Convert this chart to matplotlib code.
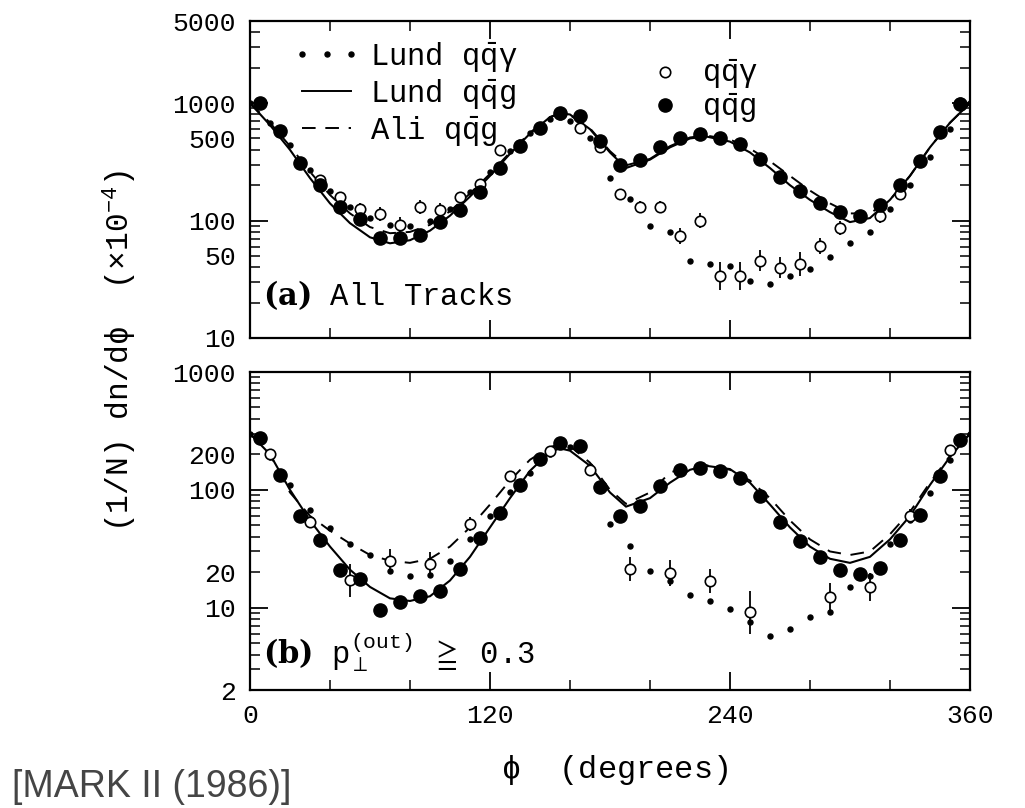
import matplotlib
matplotlib.use("Agg")
import matplotlib.pyplot as plt
from matplotlib.lines import Line2D
import numpy as np

plt.rcParams['font.family'] = ['Liberation Mono', 'DejaVu Sans']
plt.rcParams['mathtext.fontset'] = 'custom'
plt.rcParams['mathtext.rm'] = 'Liberation Mono'
plt.rcParams['mathtext.it'] = 'Liberation Mono'
plt.rcParams['mathtext.bf'] = 'DejaVu Serif:bold'
plt.rcParams['mathtext.fallback'] = 'stix'

# ---------------- data: panel (a) All Tracks ----------------
phi_bins = [5, 15, 25, 35, 45, 55, 65, 75, 85, 95, 105, 115, 125, 135, 145, 155, 165, 175,
            185, 195, 205, 215, 225, 235, 245, 255, 265, 275, 285, 295, 305, 315, 325, 335, 345, 355]
a_qqg = [1000, 579, 306, 199, 130, 103, 71, 71, 75, 97, 122, 175, 281, 434, 611, 821, 783, 475,
         300, 327, 425, 508, 542, 508, 445, 331, 235, 177, 142, 119, 109, 136, 199, 321, 564, 980]

a_gam_phi = [5, 35, 45, 55, 65, 75, 85, 95, 105, 115, 125, 135, 145, 155, 165, 175, 185, 195,
             205, 215, 225, 235, 245, 255, 265, 275, 285, 295, 315, 325, 355]
a_gam = [1000, 220, 158, 126, 114, 91, 130, 122, 158, 206, 398, 440, 618, 800, 616, 425, 169, 130,
         130, 74, 100, 33.8, 33.8, 45.4, 39.8, 42.5, 61, 86.5, 110, 169, 1000]
a_gam_err = [0.02, 0.04, 0.04, 0.05, 0.06, 0.07, 0.06, 0.06, 0.04, 0.04, 0.03, 0.03, 0.03, 0.03, 0.03,
             0.03, 0.04, 0.05, 0.05, 0.07, 0.06, 0.12, 0.12, 0.09, 0.09, 0.10, 0.07, 0.06, 0.06, 0.05, 0.02]

curve_phi = [0, 10, 20, 30, 40, 50, 60, 70, 80, 90, 100, 110, 120, 130, 140, 150, 160, 170, 180,
             190, 200, 210, 220, 230, 240, 250, 260, 270, 280, 290, 300, 310, 320, 330, 340, 350, 360]
a_lund_gam = [1000, 680, 440, 270, 180, 130, 105, 92, 90, 100, 125, 175, 260, 390, 560, 730, 700, 500,
              231, 153, 90, 80, 45, 43, 41, 30.6, 28.7, 33.8, 39, 48.5, 65, 80, 126, 200, 350, 600, 1000]

line_phi = [0, 10, 20, 30, 40, 50, 60, 70, 80, 90, 100, 110, 120, 130, 140, 150, 155, 160, 170, 180,
            188, 200, 210, 220, 228, 240, 250, 260, 270, 280, 290, 300, 310, 320, 330, 340, 350, 360]
a_lund_g = [1000, 650, 400, 230, 140, 95, 72, 64, 68, 82, 110, 160, 240, 370, 550, 760, 820, 800, 600, 380,
            280, 330, 420, 500, 520, 470, 380, 280, 200, 150, 118, 97, 105, 150, 240, 420, 680, 1000]
a_ali_g = [1000, 680, 430, 260, 165, 115, 88, 78, 80, 92, 120, 170, 250, 380, 560, 760, 810, 790, 610, 390,
           295, 335, 430, 510, 530, 490, 410, 320, 240, 180, 140, 115, 115, 150, 240, 420, 680, 1000]

# ---------------- data: panel (b) p_perp(out) >= 0.3 ----------------
b_qqg = [273, 134, 60, 37.8, 21, 17.6, 9.55, 11.2, 12.6, 13.8, 21.4, 39, 64, 110, 181, 251, 235, 105,
         59.6, 73, 108, 146, 152, 145, 126, 88, 53, 36.6, 27, 21, 19.4, 21.5, 37.8, 61.5, 131, 265]

b_gam_phi = [10, 30, 50, 70, 90, 110, 130, 150, 170, 190, 210, 230, 250, 290, 310, 330, 350]
b_gam = [201, 53, 17.1, 24.8, 23.7, 51.6, 130, 215, 147, 21.4, 19.8, 16.8, 9.1, 12.2, 15, 60, 218]
b_gam_err = [0.02, 0.04, 0.14, 0.10, 0.10, 0.06, 0.04, 0.03, 0.04, 0.10, 0.11, 0.10, 0.18, 0.12, 0.12, 0.06, 0.03]

b_lund_gam = [300, 190, 110, 68, 47, 35, 28, 20.4, 18.7, 19, 24.8, 38, 59.6, 95, 138, 200, 230, 160,
              51, 33.6, 20.4, 16.8, 12.7, 11.4, 9.8, 7.5, 5.7, 6.65, 8.3, 9.1, 15, 18.7, 35, 55, 94, 180, 300]
b_lund_g = [300, 200, 100, 55, 33, 21, 15, 12, 11.4, 12.5, 17, 27, 48, 85, 145, 210, 225, 215, 160, 95,
            72, 85, 115, 148, 160, 150, 115, 75, 48, 33, 26, 24, 27, 38, 60, 110, 190, 300]
b_ali_g = [300, 200, 95, 60, 45, 35, 28, 25, 24, 26, 33, 48, 75, 120, 180, 230, 245, 235, 170, 100,
           76, 95, 140, 160, 162, 148, 120, 85, 55, 38, 30, 28, 30, 42, 65, 115, 195, 300]

# ---------------- figure ----------------
fig = plt.figure(figsize=(10.25, 8.08), dpi=100)
axA = fig.add_axes([0.2439, 0.5817, 0.7024, 0.3923])
axB = fig.add_axes([0.2439, 0.1460, 0.7024, 0.3936])

TICK_FS = 19


def style_axis(ax, ylim, major, minor, minor_labels):
    ax.set_yscale('log')
    ax.set_xlim(0, 360)
    ax.set_ylim(*ylim)
    ax.set_xticks([0, 120, 240, 360])
    ax.set_xticks([40, 80, 160, 200, 280, 320], minor=True)
    ax.set_yticks(major, labels=[str(m) for m in major])
    ax.set_yticks(minor, labels=[str(int(m)) if m in minor_labels else '' for m in minor], minor=True)
    ax.tick_params(which='both', direction='in', top=True, right=True, labelsize=TICK_FS, pad=10)
    ax.tick_params(which='major', length=13, width=1.3)
    ax.tick_params(which='minor', length=7, width=1.1)
    for s in ax.spines.values():
        s.set_linewidth(1.6)


def sub_minor(lo, hi):
    out = []
    dec = 10 ** int(np.floor(np.log10(lo)))
    while dec < hi:
        for k in range(2, 10):
            v = k * dec
            if lo <= v <= hi:
                out.append(v)
        dec *= 10
    return out


style_axis(axA, (10, 5000), [10, 100, 1000], sub_minor(10, 5000), {50, 500, 5000})
style_axis(axB, (2, 1000), [10, 100, 1000], sub_minor(2, 1000), {2, 20, 200})
axA.tick_params(labelbottom=False)


def err_bounds(vals, errs):
    v = np.array(vals, dtype=float)
    e = np.array(errs, dtype=float)
    return np.vstack([v - v / 10 ** e, v * 10 ** e - v])


def draw(ax, lund_g, ali_g, lund_gam, qqg, gphi, gam, gerr):
    ax.plot(line_phi, lund_g, color='black', lw=1.5, zorder=2)
    ax.plot(line_phi, ali_g, color='black', lw=1.4, ls=(0, (7, 5)), zorder=2)
    ax.plot(curve_phi, lund_gam, ls='none', marker='o', ms=3.6, color='black', zorder=2)
    ax.errorbar(gphi, gam, yerr=err_bounds(gam, gerr), fmt='o', ms=7.5, mfc='white', mec='black',
                mew=1.2, ecolor='black', elinewidth=1.3, capsize=0, zorder=3)
    ax.plot(phi_bins, qqg, ls='none', marker='o', ms=9.5, color='black', zorder=4)


draw(axA, a_lund_g, a_ali_g, a_lund_gam, a_qqg, a_gam_phi, a_gam, a_gam_err)
draw(axB, b_lund_g, b_ali_g, b_lund_gam, b_qqg, b_gam_phi, b_gam, b_gam_err)

# legends
h1 = [Line2D([], [], ls='none', marker='o', ms=3.6, color='black'),
      Line2D([], [], color='black', lw=1.4),
      Line2D([], [], color='black', lw=1.4, ls=(0, (7, 5)))]
l1 = [r'Lund $\mathrm{q\bar{q}\gamma}$', r'Lund $\mathrm{q\bar{q}g}$', r'Ali $\mathrm{q\bar{q}g}$']
leg1 = axA.legend(h1, l1, loc='upper left', bbox_to_anchor=(0.06, 0.94), frameon=False,
                  fontsize=22, numpoints=3, handlelength=2.2, handletextpad=0.3,
                  labelspacing=0.1, borderaxespad=0, borderpad=0)
axA.add_artist(leg1)
h2 = [Line2D([], [], ls='none', marker='o', ms=7.5, mfc='white', mec='black', mew=1.2),
      Line2D([], [], ls='none', marker='o', ms=9.5, color='black')]
l2 = [r'$\mathrm{q\bar{q}\gamma}$', r'$\mathrm{q\bar{q}g}$']
axA.legend(h2, l2, loc='upper left', bbox_to_anchor=(0.555, 0.885), frameon=False,
           fontsize=22, numpoints=1, handlelength=1.0, handletextpad=0.7,
           labelspacing=0.0, borderaxespad=0, borderpad=0)

axA.text(0.018, 0.135, r'$\mathbf{(a)}$ All Tracks', transform=axA.transAxes, fontsize=22,
         va='center', ha='left')
axB.text(0.018, 0.12, r'$\mathbf{(b)}$ $\mathrm{p}_{\perp}^{\mathrm{(out)}}$ $\geqq$ 0.3', transform=axB.transAxes,
         fontsize=22, va='center', ha='left')

fig.text(0.117, 0.565, r'(1/N) dn/d$\phi$  ($\times$10$^{-4}$)', rotation=90, fontsize=22.5,
         ha='center', va='center')
fig.text(0.60, 0.047, r'$\phi$  (degrees)', fontsize=23, ha='center', va='center')

fig.text(0.012, 0.014, '[MARK II (1986)]', fontsize=27, color='#454545', ha='left', va='baseline',
         family=['Liberation Sans Narrow', 'Liberation Sans', 'DejaVu Sans'])

fig.savefig('out.png', dpi=100)
